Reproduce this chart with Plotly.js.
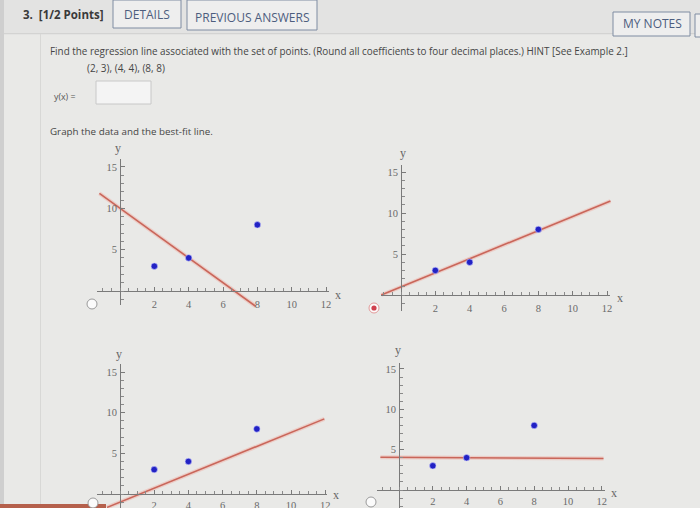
<!DOCTYPE html>
<html>
<head>
<meta charset="utf-8">
<script src="https://cdn.plot.ly/plotly-3.0.1.min.js"></script>
<style>html,body{margin:0;padding:0;background:#e9e9e7;}#chart{width:700px;height:508px;}</style>
</head>
<body>
<div id="chart"></div>
<script>
// ---- data ----
var pointsX = [2, 4, 8];
var pointsY = [3, 4, 8];
// candidate best-fit lines (endpoints), one per panel: TL, TR, BL, BR
var lineX = [[-1.2, 7.9], [-1.15, 12.2], [-0.76, 11.95], [-1.1, 12.1]];
var lineY = [[11.8, -1.85], [0.0, 11.46], [-1.65, 9.24], [4.05, 3.9]];
var xTickVals = [2, 4, 6, 8, 10, 12];
var yTickVals = [5, 10, 15];
var selected = [false, true, false, false];

// ---- panel geometry (pixels in the 700x508 picture) ----
var W = 700, H = 508;
var panels = [
  {ox:120, oy:291, sx:17.17, sy:8.27, ax:[-1.35,12.15], ay:[-1.7,16.0], xl:[338,295], yl:[118,148], rb:[92,304]},
  {ox:401, oy:295, sx:17.17, sy:8.20, ax:[-1.15,12.2], ay:[-1.9,15.85], xl:[620,298], yl:[403,153], rb:[374,308]},
  {ox:120, oy:494, sx:17.10, sy:8.13, ax:[-1.35,12.1], ay:[-1.72,16.0], xl:[336,495], yl:[119,354], rb:[93,503]},
  {ox:399, oy:490, sx:16.90, sy:8.07, ax:[-1.3,12.2], ay:[-2.2,15.7], xl:[614,493], yl:[398,350], rb:[371,502]}
];
function PX(px){return px/W;}
function PY(py){return 1-py/H;}

var traces = [];
var layout = {
  width: W, height: H,
  margin: {l:0, r:0, t:0, b:0},
  paper_bgcolor: '#e9e9e7',
  plot_bgcolor: 'rgba(0,0,0,0)',
  showlegend: false,
  shapes: [], annotations: []
};
var axFont = {family: 'Liberation Serif, DejaVu Serif, serif', size: 10.5, color: '#6a6a6a'};

panels.forEach(function(p, i){
  var n = i + 1;          // data axes
  var m = i + 5;          // display axes
  var dxr = [-2, 13];
  var dyr = [Math.max(-2.5, -(H - p.oy)/p.sy), 17];
  var xd = [PX(p.ox + p.sx*dxr[0]), PX(p.ox + p.sx*dxr[1])];
  var yd = [PY(p.oy - p.sy*dyr[0]), PY(p.oy - p.sy*dyr[1])];
  layout['xaxis'+n] = {domain: xd, range: dxr, visible: false, anchor: 'y'+n, fixedrange:true};
  layout['yaxis'+n] = {domain: yd, range: dyr, visible: false, anchor: 'x'+n, fixedrange:true};
  // display axes: same scale, drawn through the origin
  var xd2 = [PX(p.ox + p.sx*p.ax[0]), PX(p.ox + p.sx*p.ax[1])];
  var yd2 = [PY(p.oy - p.sy*p.ay[0]), PY(p.oy - p.sy*p.ay[1])];
  layout['xaxis'+m] = {domain: xd2, range: p.ax, anchor: 'free', position: PY(p.oy),
    showline: true, linecolor: '#7a7a7a', linewidth: 1, showgrid: false, zeroline: false,
    tickmode: 'array', tickvals: xTickVals, ticks: 'inside', ticklen: 4, tickcolor: '#7a7a7a',
    minor: {tickmode: 'linear', tick0: 0, dtick: 0.5, ticks: 'inside', ticklen: 3, tickcolor: '#8a8a8a', showgrid: false},
    tickfont: axFont, ticklabelstandoff: (i >= 2 ? 1 : 3), fixedrange: true};
  layout['yaxis'+m] = {domain: yd2, range: p.ay, anchor: 'free', position: PX(p.ox),
    showline: true, linecolor: '#7a7a7a', linewidth: 1, showgrid: false, zeroline: false,
    tickmode: 'array', tickvals: yTickVals, ticks: 'inside', ticklen: 4, tickcolor: '#7a7a7a',
    minor: {tickmode: 'linear', tick0: 0, dtick: 1, ticks: 'inside', ticklen: 2.5, tickcolor: '#8a8a8a', showgrid: false},
    tickfont: axFont, ticklabelstandoff: 1, fixedrange: true};
  traces.push({type:'scatter', mode:'markers', x:[null], y:[null], xaxis:'x'+m, yaxis:'y'+m, hoverinfo:'skip'});
  // best-fit line (halo + line)
  traces.push({type:'scatter', mode:'lines', x: lineX[i], y: lineY[i], xaxis:'x'+n, yaxis:'y'+n,
    line:{color:'rgba(240,170,160,0.45)', width:4}, hoverinfo:'skip'});
  traces.push({type:'scatter', mode:'lines', x: lineX[i], y: lineY[i], xaxis:'x'+n, yaxis:'y'+n,
    line:{color:'#c9665a', width:1.6}, hoverinfo:'skip'});
  // data points
  traces.push({type:'scatter', mode:'markers', x: pointsX, y: pointsY, xaxis:'x'+n, yaxis:'y'+n,
    marker:{color:'#2222c4', size:6.5, line:{color:'rgba(200,200,255,0.6)', width:1}}, cliponaxis:false});
  // axis letters
  layout.annotations.push({xref:'paper', yref:'paper', x:PX(p.xl[0]), y:PY(p.xl[1]), text:'x', showarrow:false,
    font:{family:'Liberation Serif, serif', size:12, color:'#666'}, xanchor:'center', yanchor:'middle'});
  layout.annotations.push({xref:'paper', yref:'paper', x:PX(p.yl[0]), y:PY(p.yl[1]), text:'y', showarrow:false,
    font:{family:'Liberation Serif, serif', size:12, color:'#666'}, xanchor:'center', yanchor:'middle'});
  // radio buttons
  var r = 5;
  layout.shapes.push({type:'circle', xref:'paper', yref:'paper', x0:PX(p.rb[0]-r), x1:PX(p.rb[0]+r), y0:PY(p.rb[1]+r), y1:PY(p.rb[1]-r),
    fillcolor:'#fbfbfb', line:{color: selected[i] ? '#e39a9a' : '#9a9a9a', width:1}});
  if (selected[i]) {
    layout.shapes.push({type:'circle', xref:'paper', yref:'paper', x0:PX(p.rb[0]-2.6), x1:PX(p.rb[0]+2.6), y0:PY(p.rb[1]+2.6), y1:PY(p.rb[1]-2.6),
      fillcolor:'#d0404e', line:{width:0}});
  }
});

// ---- page chrome (header, buttons, text) ----
function rect(x0,y0,x1,y1,fill,lc,lw){
  layout.shapes.push({type:'rect', xref:'paper', yref:'paper', x0:PX(x0), x1:PX(x1), y0:PY(y1), y1:PY(y0),
    fillcolor:fill, line:{color:lc||'rgba(0,0,0,0)', width: lw===undefined?1:lw}, layer:'below'});
}
function label(px,py,txt,size,color,anchor,bold,fam){
  layout.annotations.push({xref:'paper', yref:'paper', x:PX(px), y:PY(py), text: bold ? '<b>'+txt+'</b>' : txt,
    showarrow:false, xanchor:anchor||'left', yanchor:'middle',
    font:{family: fam || 'Open Sans, Noto Sans, sans-serif', size:size, color:color}});
}
rect(0,0,700,34,'#e3e3e2','rgba(0,0,0,0)',0);
rect(0,33,700,34.2,'#d3d3d2','rgba(0,0,0,0)',0);
rect(0,0,4,508,'#cfcfcf','rgba(0,0,0,0)',0);
rect(40,34,41,508,'#d8d8d6','rgba(0,0,0,0)',0);
// reddish strip at bottom-left of the photo
rect(0,504,106,508,'#b5604c','rgba(0,0,0,0)',0);
// buttons
rect(113,0,181,28,'#eeeeee','#7f8ca2',1);
rect(187,0,317,30,'#eeeeee','#7f8ca2',1);
rect(613,12,690,36,'#eeeeee','#7f8ca2',1);
rect(695,14,702,37,'#eeeeee','#7f8ca2',1);
label(21,15,'3.  [1/2 Points]',11.5,'#3a3a3a','left',true);
label(147,15,'DETAILS',12,'#4d5d7e','center');
label(252,17,'PREVIOUS ANSWERS',12,'#4d5d7e','center');
label(652,23,'MY NOTES',12,'#4d5d7e','center');
label(48,51,'Find the regression line associated with the set of points. (Round all coefficients to four decimal places.) HINT [See Example 2.]',9.9,'#454545','left');
label(85,68,'(2, 3), (4, 4), (8, 8)',10,'#454545','left');
label(52,97,'y(x) =',8.8,'#555','left');
rect(96,81,151,104,'#f4f4f4','#c8c8c8',1);
label(48,131,'Graph the data and the best-fit line.',9.8,'#454545','left');

Plotly.newPlot('chart', traces, layout, {staticPlot:true, displayModeBar:false});
</script>
</body>
</html>
